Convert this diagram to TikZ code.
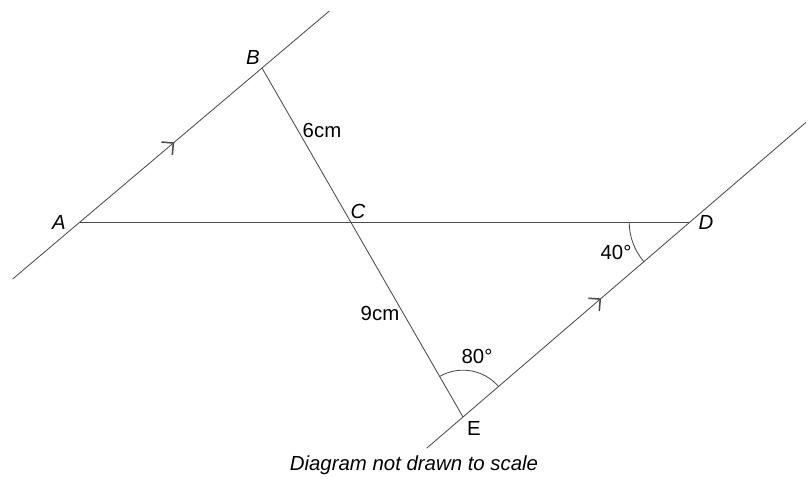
\documentclass[tikz,border=0pt]{standalone}
\usepackage{fontspec}
\setmainfont{Liberation Sans}
\usetikzlibrary{arrows.meta,decorations.markings,calc,angles}
\definecolor{linegrey}{RGB}{75,75,75}
\tikzset{
  geo/.style={linegrey,line width=0.6pt},
  para/.style={geo,postaction={decorate},
    decoration={markings,mark=at position #1 with
      {\arrow{Straight Barb[length=6pt,width=12pt,line width=1.1pt]}}}},
  lab/.style={font=\fontsize{14.5}{16}\selectfont,inner sep=1pt},
}
\begin{document}
\begin{tikzpicture}[x=0.025cm, y=-0.025cm]
    \useasboundingbox (0,0) rectangle (808,479);
    % points of the figure
    \coordinate (A) at (80,222);
    \coordinate (B) at (262,68);
    \coordinate (C) at (350,222);
    \coordinate (D) at (690,222);
    \coordinate (E) at (463,417);
    \coordinate (L1a) at ($(B)!1.37!(A)$);
    \coordinate (L1b) at ($(A)!1.37!(B)$);
    \coordinate (L2a) at ($(D)!1.16!(E)$);
    \coordinate (L2b) at ($(E)!1.51!(D)$);
    % the two parallel lines
    \draw[para=0.51] (L1a) -- (L1b);
    \draw[para=0.46] (L2a) -- (L2b);
    \draw[geo] (A) -- (D);
    \draw[geo] (B) -- (E);
    % angles
    \pic[draw, geo, angle radius=1.52cm] {angle = C--D--E};
    \pic[draw, geo, angle radius=1.17cm] {angle = D--E--C};
    % labels
    \node[lab] (labA) at (59,222) {\itshape A};
    \node[lab] (labB) at (253,57) {\itshape B};
    \node[lab] (labC) at (358,211) {\itshape C};
    \node[lab] (labD) at (706,222) {\itshape D};
    \node[lab] (labE) at (474,428) {E};
    \node[lab] (lenBC) at (322,130) {6cm};
    \node[lab] (lenCE) at (380,313) {9cm};
    \node[lab] (angD) at (616,252) {40°};
    \node[lab] (angE) at (477,356) {80°};
    \node[lab] (note) at (414,465) {\itshape Diagram not drawn to scale};
  \end{tikzpicture}
\end{document}
